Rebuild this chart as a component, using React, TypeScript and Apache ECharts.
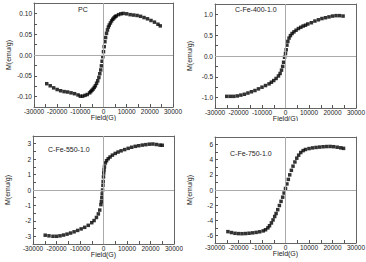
import React, { useEffect, useRef } from "react";
import * as echarts from "echarts";

const fieldPC = [-24500,-23000,-21500,-20000,-18500,-17000,-15500,-14000,-12500,-11000,-10000,-9000,-8000,-7000,-6000,-5500,-5000,-4500,-4000,-3500,-3000,-2500,-2000,-1600,-1200,-900,-600,-300,0,300,600,900,1300,1700,2100,2500,3000,3500,4000,4500,5000,5500,6500,7500,8500,10000,11500,13000,14500,16000,17500,19000,20500,22000,23500,24500];
const magPC = [-0.069,-0.074,-0.079,-0.083,-0.086,-0.088,-0.089,-0.091,-0.093,-0.096,-0.099,-0.099,-0.097,-0.095,-0.091,-0.088,-0.085,-0.082,-0.078,-0.074,-0.068,-0.062,-0.054,-0.045,-0.036,-0.026,-0.015,-0.004,0.008,0.02,0.032,0.042,0.052,0.06,0.067,0.072,0.077,0.082,0.086,0.089,0.092,0.094,0.097,0.099,0.1,0.099,0.097,0.096,0.095,0.093,0.09,0.087,0.083,0.079,0.074,0.07];

const field400 = [-25000,-23500,-22000,-20500,-19000,-17500,-16000,-14500,-13000,-11500,-10000,-8500,-7000,-6000,-5000,-4000,-3000,-2300,-1700,-1200,-800,-400,0,300,600,1000,1500,2100,2800,3600,4500,5500,6500,7500,8500,9500,11000,12500,14000,15500,17000,18500,20000,21500,23000,24500];
const mag400 = [-0.97,-0.97,-0.97,-0.96,-0.94,-0.92,-0.89,-0.86,-0.83,-0.79,-0.75,-0.71,-0.67,-0.63,-0.59,-0.54,-0.48,-0.42,-0.34,-0.25,-0.15,-0.03,0.06,0.15,0.26,0.35,0.43,0.49,0.54,0.58,0.62,0.66,0.69,0.72,0.74,0.77,0.8,0.84,0.87,0.9,0.92,0.94,0.96,0.97,0.97,0.96];

const field550 = [-24800,-23200,-21500,-20000,-18500,-17000,-15500,-14000,-12500,-11000,-9500,-8000,-6500,-5000,-4000,-3000,-2200,-1600,-1100,-900,-700,-550,-400,-250,-150,0,100,250,400,800,1300,2000,2800,3800,5000,6200,7500,9000,10500,12000,13500,15000,16500,18000,19500,21000,22500,24000,25000];
const mag550 = [-2.93,-2.97,-3.0,-3.0,-2.97,-2.92,-2.86,-2.79,-2.71,-2.62,-2.52,-2.42,-2.29,-2.12,-1.98,-1.78,-1.55,-1.3,-0.95,-0.75,-0.5,-0.25,0.0,0.3,0.55,0.85,1.1,1.3,1.5,1.75,1.9,2.03,2.14,2.26,2.37,2.46,2.54,2.62,2.7,2.77,2.83,2.87,2.91,2.94,2.97,2.98,2.95,2.91,2.9];

const field750 = [-24500,-23000,-21500,-20000,-18500,-17000,-15500,-14000,-12500,-11000,-9500,-8500,-7500,-6800,-6000,-5300,-4600,-4000,-3300,-2600,-1900,-1200,-600,0,600,1200,1800,2500,3200,4000,4800,5600,6500,7500,8500,10000,11500,13000,14500,16000,17500,19000,20500,22000,23500,24700];
const mag750 = [-5.5,-5.62,-5.72,-5.76,-5.77,-5.75,-5.71,-5.66,-5.6,-5.52,-5.4,-5.25,-5.0,-4.72,-4.35,-3.95,-3.5,-3.1,-2.6,-2.05,-1.5,-0.95,-0.4,0.2,0.8,1.4,2.0,2.6,3.15,3.7,4.2,4.6,4.95,5.2,5.35,5.47,5.56,5.62,5.67,5.71,5.74,5.75,5.72,5.65,5.57,5.5];

const xTicks = [-30000,-20000,-10000,0,10000,20000,30000];
const xMinor = [-25000,-15000,-5000,5000,15000,25000];
const yTicksPC = [-0.1,-0.05,0,0.05,0.1];
const yTicks400 = [-1,-0.5,0,0.5,1];
const yTicks550 = [-3,-2,-1,0,1,2,3];
const yTicks750 = [-6,-4,-2,0,2,4,6];

const FONT = "Liberation Sans, Arial, sans-serif";

type Panel = {
  field: number[];
  mag: number[];
  label: string;
  labelPos: [number, number];
  yTicks: number[];
  yRange: number;
  digits: number;
  grid: { left: number; top: number; width: number; height: number };
  box: { left: number; top: number; width: number; height: number };
};

const panels: Panel[] = [
  { field: fieldPC, mag: magPC, label: "PC", labelPos: [78, 6], yTicks: yTicksPC, yRange: 0.125, digits: 2,
    grid: { left: 34, top: 3, width: 139, height: 104 }, box: { left: 0, top: 0, width: 183, height: 121 } },
  { field: field400, mag: mag400, label: "C-Fe-400-1.0", labelPos: [52, 6], yTicks: yTicks400, yRange: 1.25, digits: 1,
    grid: { left: 32, top: 4, width: 141, height: 104 }, box: { left: 183, top: 0, width: 183, height: 121 } },
  { field: field550, mag: mag550, label: "C-Fe-550-1.0", labelPos: [48, 25], yTicks: yTicks550, yRange: 3.5, digits: 0,
    grid: { left: 33, top: 15, width: 141, height: 108 }, box: { left: 0, top: 121, width: 183, height: 141 } },
  { field: field750, mag: mag750, label: "C-Fe-750-1.0", labelPos: [47, 29], yTicks: yTicks750, yRange: 7, digits: 0,
    grid: { left: 32, top: 16, width: 141, height: 106 }, box: { left: 183, top: 121, width: 183, height: 141 } },
];

const frameLine = { show: true, onZero: false, lineStyle: { color: "#666", width: 1 } };

function makeOption(p: Panel) {
  const yStep = p.yTicks[1] - p.yTicks[0];
  const yMinor = p.yTicks.slice(0, -1).map((v) => +(v + yStep / 2).toFixed(4));
  const hiddenBits = { axisTick: { show: false }, axisLabel: { show: false }, splitLine: { show: false } };
  return {
    animation: false,
    grid: { ...p.grid, containLabel: false, outerBoundsMode: "none" },
    xAxis: [
      {
        type: "value",
        min: -30000,
        max: 30000,
        name: "Field(G)",
        nameLocation: "middle",
        nameGap: 7,
        nameMoveOverlap: false,
        nameTextStyle: { fontFamily: FONT, fontSize: 7, color: "#222" },
        axisLine: frameLine,
        splitLine: { show: false },
        axisTick: { show: true, inside: true, length: 3, lineStyle: { color: "#555" }, customValues: [...xTicks, ...xMinor] },
        axisLabel: { fontFamily: FONT, fontSize: 6.5, color: "#222", margin: 1, customValues: xTicks, formatter: (v: number) => String(v) },
      },
      { type: "value", position: "top", min: -30000, max: 30000, axisLine: frameLine, ...hiddenBits },
    ],
    yAxis: [
      {
        type: "value",
        min: -p.yRange,
        max: p.yRange,
        name: "M(emu/g)",
        nameLocation: "middle",
        nameGap: 22,
        nameMoveOverlap: false,
        nameRotate: 90,
        nameTextStyle: { fontFamily: FONT, fontSize: 7, color: "#222" },
        axisLine: frameLine,
        splitLine: { show: false },
        axisTick: { show: true, inside: true, length: 3, lineStyle: { color: "#555" }, customValues: [...p.yTicks, ...yMinor] },
        axisLabel: { fontFamily: FONT, fontSize: 6.5, color: "#222", margin: 2, customValues: p.yTicks, formatter: (v: number) => v.toFixed(p.digits) },
      },
      { type: "value", position: "right", min: -p.yRange, max: p.yRange, axisLine: frameLine, ...hiddenBits },
    ],
    graphic: [
      { type: "text", left: p.labelPos[0], top: p.labelPos[1], style: { text: p.label, fontFamily: FONT, fontSize: 7, fill: "#222" } },
    ],
    series: [
      {
        type: "scatter",
        data: p.field.map((f, i) => [f, p.mag[i]]),
        symbol: "rect",
        symbolSize: 3.5,
        itemStyle: { color: "#000" },
        markLine: {
          silent: true,
          symbol: "none",
          label: { show: false },
          lineStyle: { color: "#aaa", width: 1, type: "solid" },
          data: [{ xAxis: 0 }, { yAxis: 0 }],
        },
      },
    ],
  };
}

function PanelChart({ p }: { p: Panel }) {
  const ref = useRef<HTMLDivElement>(null);
  useEffect(() => {
    if (!ref.current) return;
    const chart = echarts.init(ref.current, undefined, { renderer: "svg" });
    chart.setOption(makeOption(p) as any);
    return () => chart.dispose();
  }, [p]);
  return (
    <div style={{ position: "absolute", left: p.box.left, top: p.box.top, width: p.box.width, height: p.box.height, overflow: "hidden" }}>
      <div ref={ref} style={{ width: p.box.width, height: p.box.height }} />
    </div>
  );
}

export default function App() {
  return (
    <div style={{ position: "absolute", left: 0, top: 0, width: 366, height: 262, background: "#fff", overflow: "hidden" }}>
      {panels.map((p, i) => (
        <PanelChart key={i} p={p} />
      ))}
    </div>
  );
}
